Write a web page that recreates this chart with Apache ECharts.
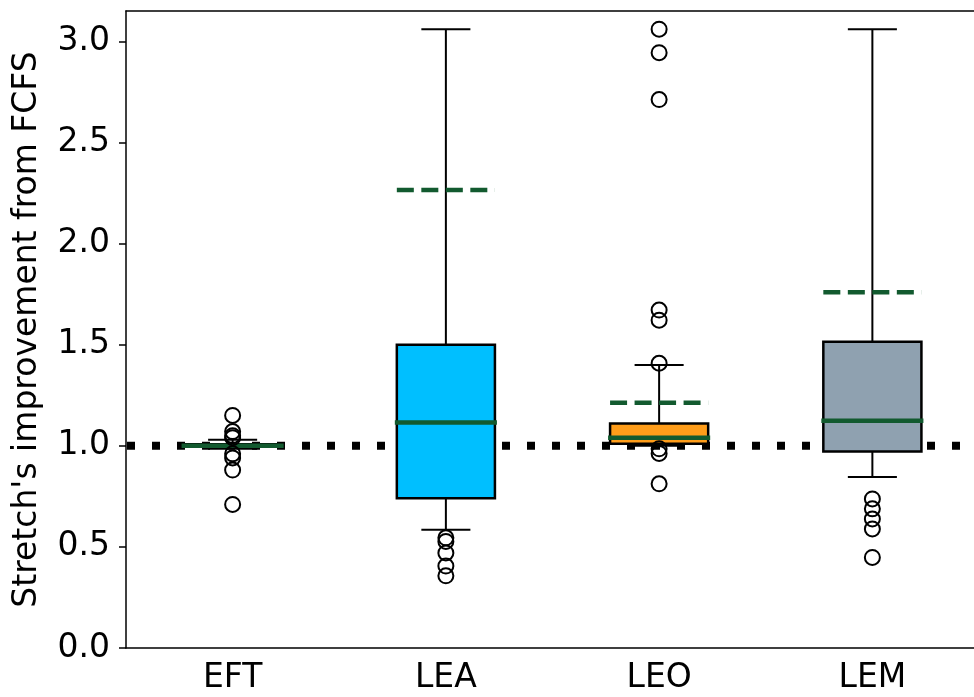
<!DOCTYPE html>
<html>
<head>
<meta charset="utf-8">
<script src="https://cdn.jsdelivr.net/npm/echarts@6/dist/echarts.min.js"></script>
<style>
html,body{margin:0;padding:0;background:#fff;}
#c{width:974px;height:697px;}
</style>
</head>
<body>
<div id="c"></div>
<script>
const categories = ['EFT', 'LEA', 'LEO', 'LEM'];
const whiskerLow  = [0.985, 0.585, 1.00, 0.845];
const q1          = [0.995, 0.740, 1.01, 0.972];
const median      = [1.000, 1.115, 1.04, 1.124];
const q3          = [1.008, 1.500, 1.11, 1.514];
const whiskerHigh = [1.030, 3.060, 1.40, 3.060];
const means       = [1.000, 2.265, 1.213, 1.759];
const boxColors   = ['#9ccf9c', '#00bfff', '#ff9d1a', '#8fa1b0'];
const outliersEFT = [1.15, 1.07, 1.05, 1.04, 0.96, 0.94, 0.88, 0.71];
const outliersLEA = [0.545, 0.527, 0.47, 0.405, 0.357];
const outliersLEO = [3.06, 2.944, 2.712, 1.671, 1.621, 1.408, 0.985, 0.962, 0.812];
const outliersLEM = [0.737, 0.688, 0.638, 0.589, 0.448];
const yTicks = [0, 0.5, 1.0, 1.5, 2.0, 2.5, 3.0];
const baseline = [1.0];

const outlierLists = [outliersEFT, outliersLEA, outliersLEO, outliersLEM];
const outlierData = [];
outlierLists.forEach((arr, i) => arr.forEach(v => outlierData.push([i, v])));

const boxData = categories.map((c, i) => [i, whiskerLow[i], q1[i], median[i], q3[i], whiskerHigh[i], means[i]]);

const green = '#125a2f';
const font = 'DejaVu Sans';
const fs = 33;

function renderBox(params, api) {
  const i = api.value(0);
  const band = api.size([1, 0])[0];
  const bw = band * 0.46;
  const capW = bw * 0.5;
  const x = api.coord([i, 0])[0];
  const yLo = api.coord([i, api.value(1)])[1];
  const yQ1 = api.coord([i, api.value(2)])[1];
  const yMed = api.coord([i, api.value(3)])[1];
  const yQ3 = api.coord([i, api.value(4)])[1];
  const yHi = api.coord([i, api.value(5)])[1];
  const yMean = api.coord([i, api.value(6)])[1];
  const blk = {stroke: '#000', lineWidth: 2};
  return {
    type: 'group',
    children: [
      {type: 'line', shape: {x1: x, y1: yQ3, x2: x, y2: yHi}, style: blk},
      {type: 'line', shape: {x1: x, y1: yQ1, x2: x, y2: yLo}, style: blk},
      {type: 'line', shape: {x1: x - capW / 2, y1: yHi, x2: x + capW / 2, y2: yHi}, style: blk},
      {type: 'line', shape: {x1: x - capW / 2, y1: yLo, x2: x + capW / 2, y2: yLo}, style: blk},
      {type: 'line', shape: {x1: x - bw / 2, y1: yMean, x2: x + bw / 2, y2: yMean},
        style: {stroke: green, lineWidth: 4.5, lineDash: [17, 7.5]}},
      {type: 'rect', shape: {x: x - bw / 2, y: yQ3, width: bw, height: yQ1 - yQ3},
        style: {fill: boxColors[i], stroke: '#000', lineWidth: 2.5}},
      {type: 'line', shape: {x1: x - bw / 2 - 2, y1: yMed, x2: x + bw / 2 + 2, y2: yMed},
        style: {stroke: green, lineWidth: 4.5}}
    ]
  };
}

function renderBaseline(params, api) {
  const cs = params.coordSys;
  const y = api.coord([0, api.value(0)])[1];
  return {
    type: 'line',
    shape: {x1: cs.x + 1, y1: y, x2: cs.x + cs.width, y2: y},
    style: {stroke: '#000', lineWidth: 8, lineDash: [8, 17]}
  };
}

const chart = echarts.init(document.getElementById('c'), null, {renderer: 'canvas'});
chart.setOption({
  animation: false,
  backgroundColor: '#fff',
  grid: {left: 126, width: 853, top: 11, bottom: 49, outerBoundsMode: 'none', containLabel: false, show: false},
  xAxis: [{
    type: 'category',
    data: categories,
    boundaryGap: true,
    axisLine: {lineStyle: {color: '#000', width: 1.5}},
    axisTick: {alignWithLabel: true, length: 7, lineStyle: {color: '#000', width: 1.5}},
    axisLabel: {color: '#000', fontFamily: font, fontSize: fs, margin: 14},
    splitLine: {show: false}
  }, {
    type: 'category',
    data: categories,
    position: 'top',
    boundaryGap: true,
    axisLine: {show: true, lineStyle: {color: '#000', width: 1.5}},
    axisTick: {show: false},
    axisLabel: {show: false},
    splitLine: {show: false}
  }],
  yAxis: {
    type: 'value',
    min: 0,
    max: 3.15,
    interval: 0.5,
    name: "Stretch's improvement from FCFS",
    nameLocation: 'middle',
    nameRotate: 90,
    nameGap: 82,
    nameTextStyle: {color: '#000', fontFamily: font, fontSize: fs},
    axisLine: {show: true, lineStyle: {color: '#000', width: 1.5}},
    axisTick: {show: true, length: 7, lineStyle: {color: '#000', width: 1.5}, customValues: yTicks},
    axisLabel: {color: '#000', fontFamily: font, fontSize: fs, margin: 16, customValues: yTicks,
      formatter: v => Number(v).toFixed(1)},
    splitLine: {show: false}
  },
  series: [
    {
      type: 'custom',
      z: 1,
      silent: true,
      renderItem: renderBaseline,
      data: baseline.map(v => [v]),
      encode: {y: 0}
    },
    {
      type: 'custom',
      z: 6,
      renderItem: renderBox,
      data: boxData,
      encode: {x: 0, y: [1, 2, 3, 4, 5]}
    },
    {
      type: 'scatter',
      z: 7,
      data: outlierData,
      symbol: 'circle',
      symbolSize: 15,
      itemStyle: {color: 'rgba(0,0,0,0)', borderColor: '#000', borderWidth: 2, opacity: 1}
    }
  ]
});
</script>
</body>
</html>
